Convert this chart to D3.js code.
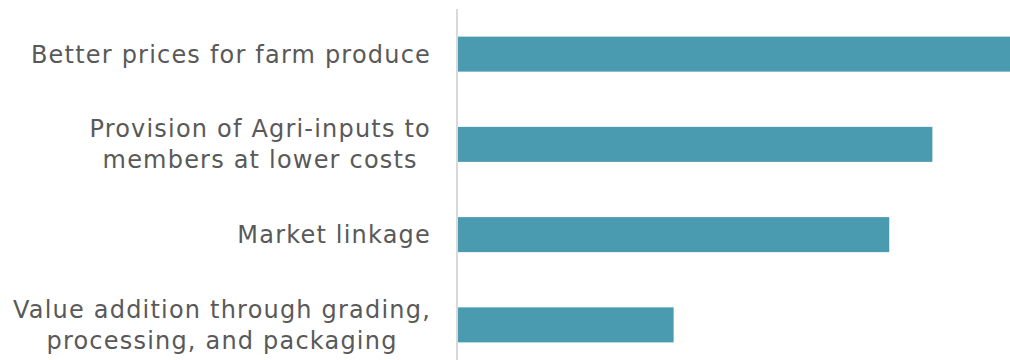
<!DOCTYPE html>
<html>
<head>
<meta charset="utf-8">
<script src="https://cdn.jsdelivr.net/npm/d3@7"></script>
<style>
  html, body { margin: 0; padding: 0; background: #ffffff; }
  svg { display: block; }
</style>
</head>
<body>
<svg id="chart" width="1010" height="360"></svg>
<script>
// Benefits reported (share of respondents, %)
const categories = [
  "Better prices for farm produce",
  "Provision of Agri-inputs to members at lower costs",
  "Market linkage",
  "Value addition through grading, processing, and packaging"
];
// Label lines as wrapped on the category axis
const labelLines = [
  ["Better prices for farm produce"],
  ["Provision of Agri-inputs to", "members at lower costs"],
  ["Market linkage"],
  ["Value addition through grading,", "processing, and packaging"]
];
const values = [64, 55, 50, 25];

const svg = d3.select("#chart");
const W = 1010, H = 360;
const plotLeft = 458, plotRight = 1010, plotTop = 9, plotBottom = 370;
const labelRight = 431;

const x = d3.scaleLinear().domain([0, 64]).range([plotLeft, plotRight]);
const y = d3.scaleBand()
  .domain(categories)
  .range([plotTop, plotBottom])
  .paddingInner(0.612)
  .paddingOuter(0.306);

// bars
svg.append("g").selectAll("rect")
  .data(values)
  .join("rect")
  .attr("x", x(0))
  .attr("y", (d, i) => y(categories[i]))
  .attr("width", d => x(d) - x(0))
  .attr("height", y.bandwidth())
  .attr("fill", "#4A9BB0");

// category axis line
svg.append("line")
  .attr("x1", plotLeft - 1).attr("x2", plotLeft - 1)
  .attr("y1", plotTop).attr("y2", H)
  .attr("stroke", "#d9d9d9")
  .attr("stroke-width", 2);

// category labels: wrapped lines are centred on each other, block right-aligned
const fontSize = 24, lineGap = 31;
const lab = svg.append("g")
  .attr("font-family", "'DejaVu Sans', sans-serif")
  .attr("font-size", fontSize)
  .attr("letter-spacing", 1.2)
  .attr("fill", "#595959")
  .attr("text-anchor", "middle");

categories.forEach((c, i) => {
  const lines = labelLines[i];
  const cy = y(c) + y.bandwidth() / 2;
  const t = lab.append("text")
    .attr("y", cy - (lines.length - 1) * lineGap / 2);
  const spans = lines.map((ln, k) => t.append("tspan")
    .attr("dy", k === 0 ? "0.35em" : lineGap)
    .text(ln));
  const maxW = d3.max(spans, s => s.node().getComputedTextLength());
  spans.forEach(s => s.attr("x", labelRight - maxW / 2));
});
</script>
</body>
</html>
